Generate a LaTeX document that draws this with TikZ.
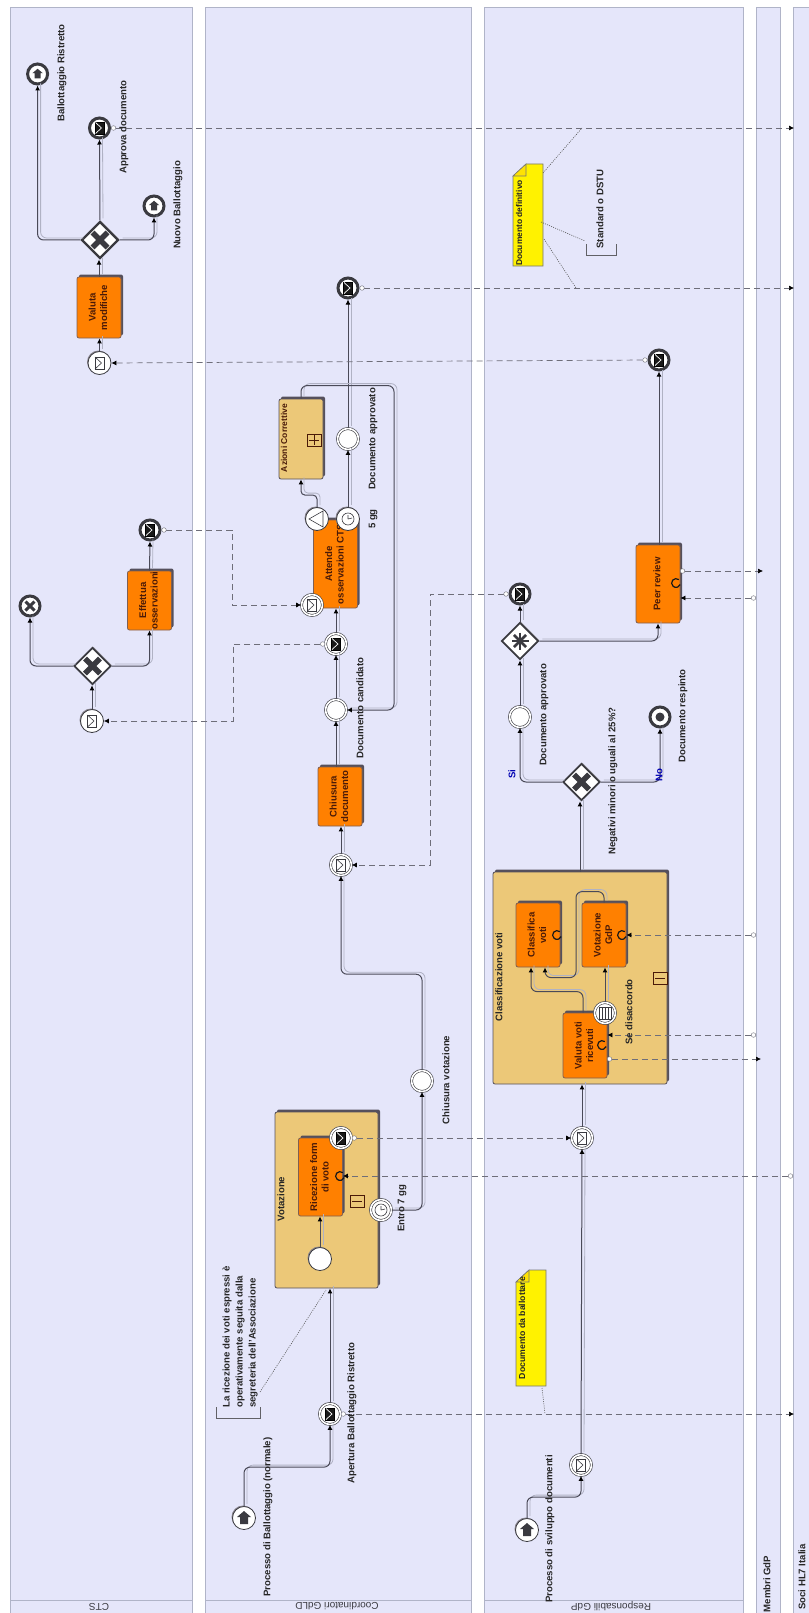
\documentclass[tikz,border=0pt]{standalone}
\usepackage{fontspec}
\usepackage{graphicx}
\setmainfont{Liberation Sans}
\setsansfont{Liberation Sans}
\usetikzlibrary{arrows.meta,shapes.geometric,shadows,calc}
\definecolor{lanefill}{HTML}{E5E6FA}
\definecolor{laneline}{HTML}{B0B4C8}
\definecolor{orangeT}{HTML}{FF8000}
\definecolor{tanS}{HTML}{ECC878}
\definecolor{darkS}{HTML}{55505C}
\definecolor{inkT}{HTML}{4A1A08}
\definecolor{ink}{HTML}{3A3A40}
\definecolor{flowc}{HTML}{4A4A58}
\definecolor{flowp}{HTML}{B0B2C4}
\tikzset{
  lane/.style={draw=laneline,fill=lanefill,line width=.8pt},
  headt/.style={rotate=180,font=\fontsize{10}{11}\selectfont,text=ink,inner sep=0},
  lbl/.style={rotate=90,font=\bfseries\fontsize{9.6}{13}\selectfont,text=black!85,inner sep=0,align=center},
  lblb/.style={lbl,text=blue!70!black},
  taskbox/.style={draw=inkT!70,fill=orangeT,rounded corners=2pt,line width=.8pt,inner sep=0,
    font=\bfseries\fontsize{9.6}{11.5}\selectfont,text=inkT,
    minimum width=44pt,minimum height=64pt,drop shadow={shadow xshift=2pt,shadow yshift=2.5pt,fill=darkS,opacity=1}},
  subbox/.style={draw=darkS,fill=tanS,rounded corners=2pt,line width=.8pt,inner sep=0,
    drop shadow={shadow xshift=2pt,shadow yshift=2.5pt,fill=darkS,opacity=1}},
  evs/.style={circle,draw=ink,fill=white,line width=.8pt,minimum size=23pt,inner sep=0,
    drop shadow={shadow xshift=-1pt,shadow yshift=1pt,fill=darkS!70,opacity=1}},
  evi/.style={circle,draw=ink,double=white,double distance=1.6pt,line width=.6pt,fill=white,minimum size=21pt,inner sep=0,
    drop shadow={shadow xshift=-1pt,shadow yshift=1pt,fill=darkS!50,opacity=1}},
  eve/.style={circle,draw=ink,fill=white,line width=3pt,minimum size=20pt,inner sep=0,
    drop shadow={shadow xshift=-.8pt,shadow yshift=.8pt,fill=darkS!60,opacity=1}},
  gate/.style={diamond,aspect=1,draw=ink,fill=white,line width=1.7pt,minimum size=37pt,inner sep=0,
    drop shadow={shadow xshift=1pt,shadow yshift=1pt,fill=darkS!50,opacity=1}},
  flow/.style={draw=flowc,line width=1pt,rounded corners=6pt,-{Latex[length=5pt,width=5pt,color=black]},
    preaction={draw=flowp,line width=.8pt,-,transform canvas={xshift=3pt,yshift=2pt}}},
  msg/.style={draw=flowc!80,line width=.7pt,dash pattern=on 6pt off 4pt,{Circle[open,fill=white,length=5pt,width=5pt,line width=.4pt]}-{Latex[length=5pt,width=5pt,color=black]}},
  assoc/.style={draw=black!65,line width=.6pt,dash pattern=on 1pt off 1.2pt},
  loopm/.style={draw=black!90,line width=1.2pt},
  markerbox/.style={draw=inkT,line width=.7pt,fill=tanS},
  brk/.style={draw=ink!80,line width=.6pt},
  notedoc/.style={draw=ink!70,fill=yellow,line width=.6pt},
}
\newcommand{\rtext}[1]{\rotatebox{90}{\begin{tabular}{@{}c@{}}#1\end{tabular}}}
\newcommand{\envl}[1]{\begin{scope}[shift={(#1.center)}]
  \draw[draw=ink,fill=white,line width=.6pt] (-4.5,-6) rectangle (4.5,6);
  \draw[draw=ink,line width=.6pt] (-4.5,-6) -- (2,0) -- (-4.5,6);
\end{scope}}
\newcommand{\envk}[1]{\begin{scope}[shift={(#1.center)}]
  \draw[draw=black,fill=black!90,line width=.5pt] (-4.5,-6) rectangle (4.5,6);
  \draw[draw=white,line width=.7pt] (-4,-5.5) -- (2,0) -- (-4,5.5);
\end{scope}}
\newcommand{\linkup}[1]{\begin{scope}[shift={(#1.center)}]
  \fill[ink] (0,-7) -- (7,-1) -- (4,-1) -- (4,6) -- (-4,6) -- (-4,-1) -- (-7,-1) -- cycle;
\end{scope}}
\newcommand{\xmark}[3]{\begin{scope}[shift={(#1.center)}]
  \draw[ink,line width=#2pt] (-#3,-#3) -- (#3,#3) (-#3,#3) -- (#3,-#3);
\end{scope}}
\newcommand{\clockm}[1]{\begin{scope}[shift={(#1.center)}]
  \draw[ink,line width=.6pt] (0,0) circle[radius=6pt] (0,0) -- (4,-1) (0,0) -- (0,-4);
\end{scope}}
\newcommand{\sigtri}[1]{\begin{scope}[shift={(#1.center)}]
  \draw[ink,line width=.6pt,fill=white] (-8,0) -- (6,-8) -- (6,8) -- cycle;
\end{scope}}
\newcommand{\listm}[1]{\begin{scope}[shift={(#1.center)}]
  \draw[ink,line width=.7pt,fill=white] (-6,-6) rectangle (6,6);
  \foreach \u in {-3,0,3}{\draw[ink,line width=1pt] (\u,-6) -- (\u,6);}
\end{scope}}
\newcommand{\starm}[1]{\begin{scope}[shift={(#1.center)}]
  \foreach \a in {0,45,90,135}{\draw[ink,line width=2.8pt] (\a:8.5pt) -- (\a+180:8.5pt);}
\end{scope}}
\newcommand{\loopmk}[2]{\draw[loopm] (#1,#2) ++(50:4.4pt) arc[start angle=50,end angle=340,radius=4.4pt];}
\newcommand{\minusbox}[2]{\draw[markerbox] (#1-7,#2-6) rectangle (#1+7,#2+6); \draw[inkT,line width=.8pt] (#1-5,#2) -- (#1+5,#2);}
\newcommand{\plusbox}[2]{\draw[markerbox] (#1-7,#2-6) rectangle (#1+7,#2+6); \draw[inkT,line width=.8pt] (#1-5,#2) -- (#1+5,#2) (#1,#2-5) -- (#1,#2+5);}
\newcommand{\docshape}[4]{%
  \draw[notedoc] (#1+13,#2) -- (#3,#2) -- (#3,#4) -- (#1,#4) -- (#1,#2+12) -- cycle;
  \draw[notedoc,fill=yellow!85!orange] (#1+13,#2) -- (#1+13,#2+12) -- (#1,#2+12) -- cycle;}
\begin{document}
\begin{tikzpicture}[x=1pt,y=-1pt]
\useasboundingbox (0,0) rectangle (808,1613);
\fill[white] (0,0) rectangle (808,1613);
% lanes
\draw[lane] (10,7) rectangle (192,1620);
\draw[lane] (205,7) rectangle (471,1620);
\draw[lane] (484,7) rectangle (743,1620);
\draw[lane] (756,7) rectangle (780,1620);
\draw[lane] (793,7) rectangle (815,1620);
\draw[draw=laneline,line width=.8pt] (10,1600) -- (192,1600) (205,1600) -- (471,1600) (484,1600) -- (743,1600);
\node[headt] (hcts) at (99,1606.5) {CTS};
\node[headt] (hcoo) at (337,1606.5) {Coordinatori GdLD};
\node[headt] (hres) at (611,1606.5) {Responsabili GdP};
\node[lbl] (hmem) at (767,1584) {Membri GdP};
\node[lbl] (hsoc) at (802,1577) {Soci HL7 Italia};

% sub-processes
\node[subbox,minimum width=103pt,minimum height=176pt] (vot) at (326.5,1200) {};
\node[subbox,minimum width=174pt,minimum height=212pt] (cla) at (580,978) {};
\node[subbox,minimum width=44pt,minimum height=80pt] (azc) at (301,439) {};
% tasks
\node[taskbox,minimum height=78pt] (ric) at (320.5,1177) {\rtext{Ricezione form\\di voto}};
\node[taskbox,minimum height=59pt] (chd) at (340,796.5) {\rtext{Chiusura\\documento}};
\node[taskbox,minimum height=88pt] (att) at (335.5,564) {\rtext{Attende\\osservazioni CTS}};
\node[taskbox,minimum height=59pt] (eff) at (149.5,600.5) {\rtext{Effettua\\osservazioni}};
\node[taskbox,minimum height=61pt] (val) at (99,307.5) {\rtext{Valuta\\modifiche}};
\node[taskbox,minimum height=65pt] (vv) at (585,1045.5) {\rtext{Valuta voti\\ricevuti}};
\node[taskbox,minimum height=64pt] (clv) at (538,935) {\rtext{Classifica\\voti}};
\node[taskbox,minimum height=64pt] (vgd) at (604,935) {\rtext{Votazione\\GdP}};
\node[taskbox,minimum height=78pt] (peer) at (658,584) {\rtext{Peer review}};

% events
\node[evs] (stb) at (244,1518) {};
\node[evs] (st2) at (527,1530) {};
\node[evs] (vst) at (320,1259) {};
\node[evi] (aper) at (330,1414) {};
\node[evi] (rend) at (341,1138) {};
\node[evi] (timv) at (381,1210) {};
\node[evi] (chv) at (422,1081) {};
\node[evi] (c1) at (341,865) {};
\node[evi] (dc) at (336,710) {};
\node[evi] (ms) at (336,644) {};
\node[evi] (i1) at (312,605) {};
\node[evs] (sig) at (317,519) {};
\node[evs] (tim2) at (348,519) {};
\node[evi] (dap) at (348,439) {};
\node[eve] (e7) at (348,288) {};
\node[eve] (e1) at (150,530) {};
\node[evs] (cev) at (92,721) {};
\node[eve] (canc) at (30,606) {};
\node[evs] (cev2) at (99.5,363) {};
\node[eve] (e2) at (99.5,128) {};
\node[eve] (e3) at (37.6,74) {};
\node[eve] (e4) at (154,206) {};
\node[evi] (c2) at (581,1465) {};
\node[evi] (c3) at (582,1138) {};
\node[evi] (bnd) at (605,1013) {};
\node[evi] (da2) at (520,717) {};
\node[eve] (term) at (660,717) {};
\node[eve] (e5) at (520,594) {};
\node[eve] (e6) at (659,360) {};
% gateways
\node[gate] (gw1) at (92.5,666) {};
\node[gate,line width=2.2pt] (gw2) at (100,240) {};
\node[gate] (gw3) at (581.5,782) {};
\node[gate] (gw4) at (520,641) {};

% icons
\envk{aper}\envk{rend}\envk{ms}\envk{e7}\envk{e1}\envk{e2}\envk{e5}\envk{e6}
\envl{c1}\envl{i1}\envl{cev}\envl{cev2}\envl{c2}\envl{c3}
\linkup{stb}\linkup{st2}
\begin{scope}[shift={(e3.center)},scale=.75]\fill[ink] (0,-7) -- (7,-1) -- (4,-1) -- (4,6) -- (-4,6) -- (-4,-1) -- (-7,-1) -- cycle;\end{scope}
\begin{scope}[shift={(e4.center)},scale=.75]\fill[ink] (0,-7) -- (7,-1) -- (4,-1) -- (4,6) -- (-4,6) -- (-4,-1) -- (-7,-1) -- cycle;\end{scope}
\clockm{timv}\clockm{tim2}\sigtri{sig}\listm{bnd}
\xmark{canc}{3}{4.5}
\xmark{gw1}{5.5}{7.5}\xmark{gw2}{5.5}{7.5}\xmark{gw3}{5.5}{7.5}\starm{gw4}
\fill[ink] (term.center) circle[radius=4.5pt];
\loopmk{340}{1176}\loopmk{557}{935}\loopmk{622}{935}\loopmk{602}{1045}\loopmk{676}{583}
\minusbox{357}{1201}\minusbox{660}{978}\plusbox{314}{440}

% sequence flows
\draw[flow] (stb.north) -- ++(0,-39) -| (aper.south);
\draw[flow] (aper.north) -- (aper.north |- vot.south);
\draw[flow] (vst.north) -- (vst.north |- ric.south);
\draw[flow] (timv.east) -| (chv.south);
\draw[flow] (chv.north) -- ++(0,-96) -| (c1.south);
\draw[flow] (c1.north) -- (c1.north |- chd.south);
\draw[flow] (dc.south |- chd.north) -- (dc.south);
\draw[flow] (dc.north) -- (ms.south);
\draw[flow] (ms.north) -- (ms.north |- att.south);
\draw[flow,rounded corners=4pt] (sig.north) -- ++(0,-12) -| (azc.south);
\draw[flow] (tim2.north) -- (dap.south);
\draw[flow] (dap.north) -- (e7.south);
\draw[flow] (azc.north) -- ++(0,-13) -- ++(93,0) |- (dc.east);
\draw[flow] (cev.north) -- (cev.north |- gw1.south);
\draw[flow] (gw1.west) -| (canc.south);
\draw[flow] (gw1.east) -| (eff.south);
\draw[flow] (eff.north) -- (e1.south);
\draw[flow] (cev2.north) -- (cev2.north |- val.south);
\draw[flow] (val.north) -- (val.north |- gw2.south);
\draw[flow] (gw2.north) -- (e2.south);
\draw[flow] (gw2.west) -| (e3.south);
\draw[flow] (gw2.east) -| (e4.south);
\draw[flow] (st2.north) -- ++(0,-21) -| (c2.south);
\draw[flow] (c2.north) -- (c3.south);
\draw[flow] (c3.north) -- (c3.north |- cla.south);
\draw[flow] (cla.north) -- (cla.north |- gw3.south);
\draw[flow] (gw3.west) -| (da2.south);
\draw[flow] (gw3.east) -| (term.south);
\draw[flow] (da2.north) -- (gw4.south);
\draw[flow] (gw4.north) -- (e5.south);
\draw[flow] (gw4.east) -| (peer.south);
\draw[flow] (e6.south |- peer.north) -- (e6.south);
\draw[flow] (bnd.north) -- (bnd.north |- vgd.south);
\draw[flow] ([xshift=-2pt]vv.north) -- ++(0,-21) -| ([xshift=-7pt]clv.south);
\draw[flow] (vgd.north) -- ++(0,-11) -- ++(-28,0) -- ++(0,86) -| ([xshift=7pt]clv.south);

% message flows
\coordinate (m1) at (232,605);
\coordinate (m2) at (233,721);
\coordinate (m3) at (430,865);
\coordinate (s1) at (794,128);
\coordinate (s2) at (794,288);
\coordinate (s3) at (794,1414);
\coordinate (s4) at (793,1176);
\coordinate (t1) at (756,935);
\coordinate (t2) at (756,1035);
\coordinate (t3) at (761,1059);
\coordinate (t4) at (763,571);
\coordinate (t5) at (756,598);
\coordinate (f1) at (607,1059);
\coordinate (f2) at (680,571);
\draw[msg] (e1.east) -| (m1) -- (i1.west);
\draw[msg] (ms.west) -| (m2) -- (cev.east);
\draw[msg] (e5.west) -| (m3) -- (c1.east);
\draw[msg] (e2.east) -- (s1);
\draw[msg] (e7.east) -- (s2);
\draw[msg] (aper.east) -- (s3);
\draw[msg] (e6.west) -- (cev2.east);
\draw[msg] (rend.east) -- (c3.west);
\draw[msg] (s4) -- (s4 -| ric.east);
\draw[msg] (t1) -- (t1 -| vgd.east);
\draw[msg] (t2) -- (t2 -| vv.east);
\draw[msg] (f1) -- (t3);
\draw[msg] (f2) -- (t4);
\draw[msg] (t5) -- (t5 -| peer.east);

% documents and notes
\docshape{513}{164}{543}{266}
\docshape{516}{1270}{546}{1386}
\node[lbl,font=\bfseries\fontsize{8.4}{10}\selectfont] (ddef) at (519,223) {Documento definitivo};
\node[lbl,font=\bfseries\fontsize{8.7}{10}\selectfont] (dbal) at (522,1328) {Documento da ballottare};
\coordinate (a1) at (543,173); \coordinate (a2) at (582,128);
\coordinate (a3) at (541,222); \coordinate (a4) at (585,241);
\coordinate (a5) at (544,239); \coordinate (a6) at (576,288);
\coordinate (a7) at (542,1388); \coordinate (a8) at (545,1414);
\coordinate (a9) at (260,1392); \coordinate (a10) at (326,1290);
\draw[assoc] (a1) -- (a2);
\draw[assoc] (a3) -- (a4);
\draw[assoc] (a5) -- (a6);
\draw[assoc] (a7) -- (a8);
\draw[assoc] (a9) -- (a10);
\draw[brk] (586,244) -- (586,255) -- (616,255) -- (616,244);
\draw[brk] (216,1407) -- (216,1418) -- (260,1418) -- (260,1407);

% labels
\node[lbl,align=left] (l1) at (240,1337) {La ricezione dei voti espressi è\\operativamente seguita dalla\\segreteria dell'Associazione};
\node[lbl] (l2) at (268,1517) {Processo di Ballottaggio (normale)};
\node[lbl] (l3) at (352,1413) {Apertura Ballottaggio Ristretto};
\node[lbl] (l4) at (281,1199) {Votazione};
\node[lbl] (l5) at (402,1208) {Entro 7 gg};
\node[lbl] (l6) at (446,1080) {Chiusura votazione};
\node[lbl] (l7) at (360,708) {Documento candidato};
\node[lbl] (l8) at (373,519) {5 gg};
\node[lbl] (l9) at (373,439) {Documento approvato};
\node[lbl] (l10) at (62,73) {Ballottaggio Ristretto};
\node[lbl] (l11) at (124,127) {Approva documento};
\node[lbl] (l12) at (178,205) {Nuovo Ballottaggio};
\node[lbl] (l13) at (600,209) {Standard o DSTU};
\node[lbl] (l14) at (550,1529) {Processo di sviluppo documenti};
\node[lbl] (l15) at (499,977) {Classificazione voti};
\node[lbl] (l16) at (629,1012) {Se disaccordo};
\node[lblb] (l17) at (512,774) {Si};
\node[lblb] (l18) at (659,775) {No};
\node[lbl] (l19) at (613,781) {Negativi minori o uguali al 25\%?};
\node[lbl] (l20) at (544,715) {Documento approvato};
\node[lbl] (l21) at (683,716) {Documento respinto};
\node[lbl,text=inkT,font=\bfseries\fontsize{8.5}{10}\selectfont] (l22) at (284,438) {Azioni Correttive};
\end{tikzpicture}
\end{document}
